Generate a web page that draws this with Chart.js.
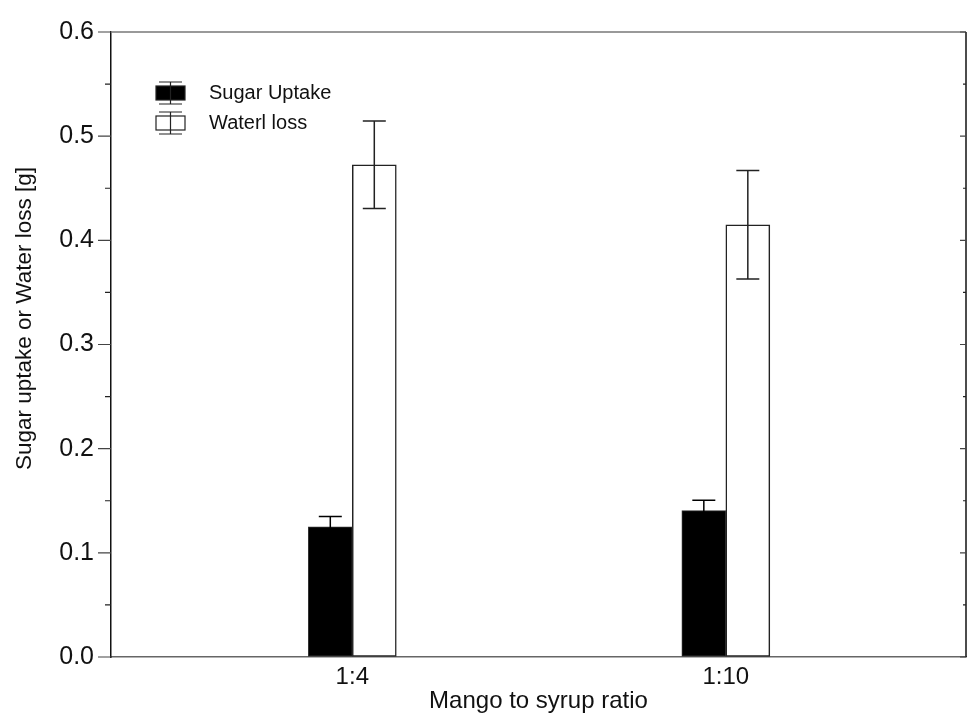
<!DOCTYPE html>
<html>
<head>
<meta charset="utf-8">
<script src="https://cdn.jsdelivr.net/npm/chart.js@4.4.0/dist/chart.umd.min.js"></script>
<style>
  html, body { margin: 0; padding: 0; background: #fff; }
  #wrap { width: 967px; height: 721px; }
</style>
</head>
<body>
<div id="wrap"><canvas id="myChart" width="967" height="721"></canvas></div>
<script>
// data
let ratios = ['1:4', '1:10'];
let ratioPos = [1, 2];
let sugarUptake = [0.125, 0.1405];
let sugarErr = [0.010, 0.010];
let waterLoss = [0.4725, 0.415];
let waterErr = [0.042, 0.052];
let yTicks = [0, 0.05, 0.1, 0.15, 0.2, 0.25, 0.3, 0.35, 0.4, 0.45, 0.5, 0.55, 0.6];
let yTitle = 'Sugar uptake or Water loss [g]';

const FONT = "'Liberation Sans', Arial, sans-serif";
const errs = [sugarErr, waterErr];
const errColors = ['#000', '#222'];

let toPoints = (vals) => vals.map((v, i) => ({ x: ratioPos[i], y: v }));

// error bars drawn on top of the bars
let errorBars = {
    id: 'errorBars',
    afterDatasetsDraw(chart) {
        let ctx = chart.ctx;
        let yScale = chart.scales.y;
        ctx.save();
        ctx.lineWidth = 1.5;
        chart.data.datasets.forEach((ds, d) => {
            let meta = chart.getDatasetMeta(d);
            ctx.strokeStyle = errColors[d];
            meta.data.forEach((bar, i) => {
                let v = ds.data[i].y;
                let e = errs[d][i];
                let yt = yScale.getPixelForValue(v + e);
                let yb = yScale.getPixelForValue(v - e);
                ctx.beginPath();
                ctx.moveTo(bar.x, yt); ctx.lineTo(bar.x, yb);
                ctx.moveTo(bar.x - 11.5, yt); ctx.lineTo(bar.x + 11.5, yt);
                ctx.moveTo(bar.x - 11.5, yb); ctx.lineTo(bar.x + 11.5, yb);
                ctx.stroke();
            });
        });
        ctx.restore();
    }
};

// frame, tick marks, y title and the in-plot legend
let frame = {
    id: 'frame',
    afterDraw(chart) {
        let ctx = chart.ctx;
        let a = chart.chartArea;
        let yScale = chart.scales.y;
        ctx.save();
        ctx.lineWidth = 1.5;
        ctx.strokeStyle = '#777';
        ctx.beginPath();
        ctx.moveTo(a.left, a.top); ctx.lineTo(a.right, a.top);
        ctx.stroke();
        ctx.strokeStyle = '#111';
        ctx.beginPath();
        ctx.moveTo(a.right, a.top); ctx.lineTo(a.right, a.bottom);
        ctx.stroke();

        ctx.lineWidth = 1.2;
        yTicks.forEach((t, i) => {
            let y = yScale.getPixelForValue(t);
            let major = i % 2 === 0;
            ctx.strokeStyle = major ? '#444' : '#222';
            ctx.beginPath();
            ctx.moveTo(a.left - (major ? 13 : 6), y); ctx.lineTo(a.left, y);
            ctx.moveTo(a.right - (major ? 6 : 3), y); ctx.lineTo(a.right, y);
            ctx.stroke();
        });

        // y title, sitting a little above the middle like the original
        ctx.save();
        ctx.translate(25, yScale.getPixelForValue(0.325));
        ctx.rotate(-Math.PI / 2);
        ctx.font = '22.5px ' + FONT;
        ctx.fillStyle = '#111';
        ctx.textAlign = 'center';
        ctx.textBaseline = 'middle';
        ctx.fillText(yTitle, 0, 0);
        ctx.restore();

        // legend
        ctx.font = '20px ' + FONT;
        ctx.textBaseline = 'middle';
        chart.data.datasets.forEach((ds, d) => {
            let cy = a.top + 61 + d * 30;
            let bx = a.left + 45;
            ctx.fillStyle = ds.backgroundColor;
            ctx.fillRect(bx, cy - 7, 29, 14);
            ctx.strokeStyle = '#222';
            ctx.lineWidth = 1.2;
            ctx.strokeRect(bx, cy - 7, 29, 14);
            let cx = bx + 14.5;
            ctx.beginPath();
            ctx.moveTo(cx, cy - 11); ctx.lineTo(cx, cy + 11);
            ctx.moveTo(cx - 11.5, cy - 11); ctx.lineTo(cx + 11.5, cy - 11);
            ctx.moveTo(cx - 11.5, cy + 11); ctx.lineTo(cx + 11.5, cy + 11);
            ctx.stroke();
            ctx.fillStyle = '#111';
            ctx.fillText(ds.label, a.left + 98, cy);
        });
        ctx.restore();
    }
};

let ctx = document.getElementById('myChart').getContext('2d');
let chart = new Chart(ctx, {
    type: 'bar',
    data: {
        datasets: [{
            label: 'Sugar Uptake',
            data: toPoints(sugarUptake),
            backgroundColor: '#000',
            borderColor: '#333',
            borderWidth: 1,
            borderSkipped: false
        }, {
            label: 'Waterl loss',
            data: toPoints(waterLoss),
            backgroundColor: '#fff',
            borderColor: '#222',
            borderWidth: 1.5,
            borderSkipped: false
        }]
    },
    options: {
        responsive: false,
        animation: false,
        barThickness: 44,
        layout: { padding: { top: 26, right: 1, left: 8, bottom: 1 } },
        plugins: { legend: { display: false }, tooltip: { enabled: false } },
        scales: {
            x: {
                type: 'linear',
                offset: false,
                min: 0.354,
                max: 2.643,
                afterBuildTicks: (s) => { s.ticks = ratioPos.map(v => ({ value: v })); },
                afterFit: (s) => { s.height = 63; },
                grid: { drawOnChartArea: false, drawTicks: false, offset: false },
                border: { color: '#666', width: 1.5 },
                ticks: {
                    padding: 6,
                    color: '#111',
                    font: { family: FONT, size: 24 },
                    callback: (v) => ratios[ratioPos.indexOf(v)]
                },
                title: {
                    display: true,
                    text: 'Mango to syrup ratio',
                    color: '#111',
                    font: { family: FONT, size: 24 }
                }
            },
            y: {
                min: 0,
                max: 0.6,
                afterBuildTicks: (s) => { s.ticks = yTicks.map(v => ({ value: v })); },
                afterFit: (s) => { s.width = 103; },
                grid: { drawOnChartArea: false, drawTicks: false },
                border: { color: '#111', width: 1.5 },
                ticks: {
                    padding: 17,
                    color: '#111',
                    font: { family: FONT, size: 25 },
                    callback: (v, i) => (i % 2 === 0 ? v.toFixed(1) : '')
                }
            }
        }
    },
    plugins: [errorBars, frame]
});
</script>
</body>
</html>
